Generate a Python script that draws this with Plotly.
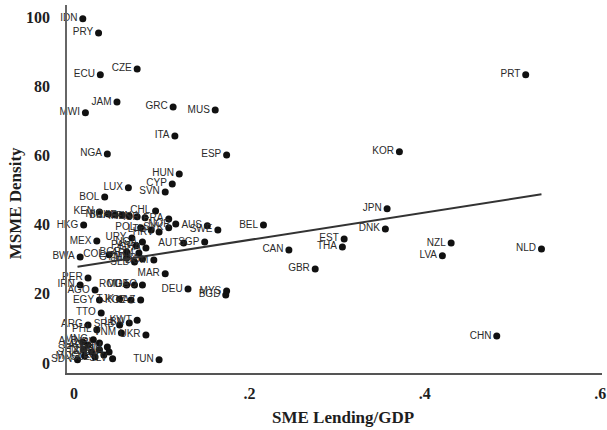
import plotly.graph_objects as go

# Country codes with SME lending (share of GDP) and MSME density
countries = [
    "IDN", "PRY", "CZE", "ECU", "PRT", "JAM", "GRC", "MUS", "MWI", "ITA",
    "KOR", "NGA", "ESP", "HUN", "CYP", "LUX", "SVN", "BOL", "JPN", "CHL",
    "KEN", "NIC", "BRA", "CHE", "IRL", "FIN", "ISR", "FRA", "NOR", "HKG",
    "BEL", "AUS", "SWE", "DNK", "POL", "LTU", "HRV", "SVK", "MEX", "URY",
    "PAN", "UGA", "GHA", "BGR", "ARM", "AUT", "SGP", "EST", "THA", "NZL",
    "NLD", "LVA", "CAN", "BWA", "COL", "GTM", "HND", "DOM", "SLB", "GBR",
    "MAR", "PER", "IRN", "ROU", "MDA", "GEO", "DEU", "MYS", "BGD", "AGO",
    "EGY", "KGZ", "KAZ", "TJK", "TTO", "KWT", "ARG", "SRB", "LBN", "PHL",
    "VNM", "UKR", "CHN", "TUN", "ALB", "LAO", "NPL", "KHM", "SEN", "TZA",
    "ZMB", "RWA", "MDG", "SLE", "YEM", "SLV", "SDN", "MNG",
]
sme_lending = [
    0.010, 0.028, 0.072, 0.030, 0.515, 0.049, 0.113, 0.161, 0.013, 0.115,
    0.371, 0.038, 0.174, 0.120, 0.112, 0.062, 0.104, 0.035, 0.357, 0.093,
    0.029, 0.039, 0.047, 0.055, 0.063, 0.072, 0.081, 0.108, 0.116, 0.011,
    0.216, 0.152, 0.164, 0.355, 0.076, 0.088, 0.097, 0.108, 0.026, 0.066,
    0.071, 0.078, 0.082, 0.060, 0.074, 0.125, 0.149, 0.308, 0.306, 0.430,
    0.533, 0.420, 0.245, 0.007, 0.040, 0.060, 0.078, 0.091, 0.069, 0.275,
    0.104, 0.016, 0.007, 0.060, 0.069, 0.078, 0.130, 0.174, 0.173, 0.024,
    0.029, 0.065, 0.076, 0.052, 0.031, 0.072, 0.016, 0.052, 0.063, 0.026,
    0.054, 0.082, 0.482, 0.097, 0.010, 0.016, 0.029, 0.038, 0.011, 0.020,
    0.029, 0.040, 0.012, 0.024, 0.034, 0.044, 0.004, 0.022,
]
msme_density = [
    99.6, 95.5, 85.1, 83.4, 83.4, 75.5, 74.1, 73.2, 72.4, 65.7,
    61.1, 60.5, 60.2, 54.7, 51.8, 50.7, 49.5, 48.0, 44.6, 44.0,
    43.7, 43.1, 42.8, 42.8, 42.5, 42.3, 42.0, 41.7, 40.2, 39.9,
    39.9, 39.7, 38.5, 38.8, 39.1, 38.5, 37.9, 39.1, 35.3, 36.2,
    33.9, 35.0, 33.3, 32.1, 31.8, 34.7, 35.0, 35.9, 33.6, 34.7,
    33.0, 31.0, 32.7, 30.7, 31.3, 30.4, 30.1, 29.8, 29.2, 27.2,
    25.8, 24.6, 22.6, 22.6, 22.6, 22.6, 21.4, 20.8, 19.7, 21.1,
    18.2, 18.2, 18.2, 18.5, 14.5, 12.4, 11.0, 11.0, 11.6, 9.6,
    8.7, 8.1, 7.8, 0.9, 6.1, 5.2, 5.8, 4.6, 3.8, 3.2,
    3.8, 3.2, 2.0, 1.7, 2.3, 1.2, 0.9, 6.7,
]

# Linear fit of density on lending
fit_intercept = 27.7
fit_slope = 39.6

x_ticks = [0, 0.2, 0.4, 0.6]
x_tick_labels = ["0", ".2", ".4", ".6"]
y_ticks = [0, 20, 40, 60, 80, 100]
y_tick_labels = ["0", "20", "40", "60", "80", "100"]

fit_x = [min(sme_lending), max(sme_lending)]
fit_y = [fit_intercept + fit_slope * v for v in fit_x]

serif_bold = dict(family="Liberation Serif", size=16, color="#1e1e1e", weight="bold")

fig = go.Figure()
fig.add_trace(go.Scatter(
    x=sme_lending, y=msme_density, text=countries,
    mode="markers+text", textposition="middle left",
    textfont=dict(family="Liberation Sans", size=10, color="#2a2a2a"),
    marker=dict(size=7, color="#111111"),
    cliponaxis=False, hoverinfo="text",
))
fig.add_trace(go.Scatter(
    x=fit_x, y=fit_y, mode="lines",
    line=dict(color="#333333", width=2),
    hoverinfo="skip",
))

fig.update_layout(
    width=607, height=430,
    margin=dict(l=67, r=1, t=5, b=57),
    paper_bgcolor="white", plot_bgcolor="white",
    showlegend=False,
    xaxis=dict(
        range=[-0.008, 0.602], tickvals=x_ticks, ticktext=x_tick_labels,
        showgrid=False, zeroline=False, showline=True,
        linecolor="#555555", linewidth=1.5, ticks="",
        tickfont=serif_bold, ticklabelstandoff=5,
        ticklabeloverflow="allow",
    ),
    yaxis=dict(
        range=[-2.9, 103.6], tickvals=y_ticks, ticktext=y_tick_labels,
        showgrid=False, zeroline=False, showline=True,
        linecolor="#666666", linewidth=1.5, ticks="",
        tickfont=serif_bold, ticklabelstandoff=12,
    ),
    annotations=[
        dict(text="SME Lending/GDP", xref="paper", yref="paper",
             x=0.516, y=-0.122, xanchor="center", yanchor="middle",
             showarrow=False,
             font=dict(family="Liberation Serif", size=17, color="#1e1e1e", weight="bold")),
        dict(text="MSME Density", xref="paper", yref="paper",
             x=-0.0946, y=0.462, xanchor="center", yanchor="middle",
             textangle=-90, showarrow=False,
             font=dict(family="Liberation Serif", size=17, color="#1e1e1e", weight="bold")),
    ],
)

fig.write_html("out.html")
